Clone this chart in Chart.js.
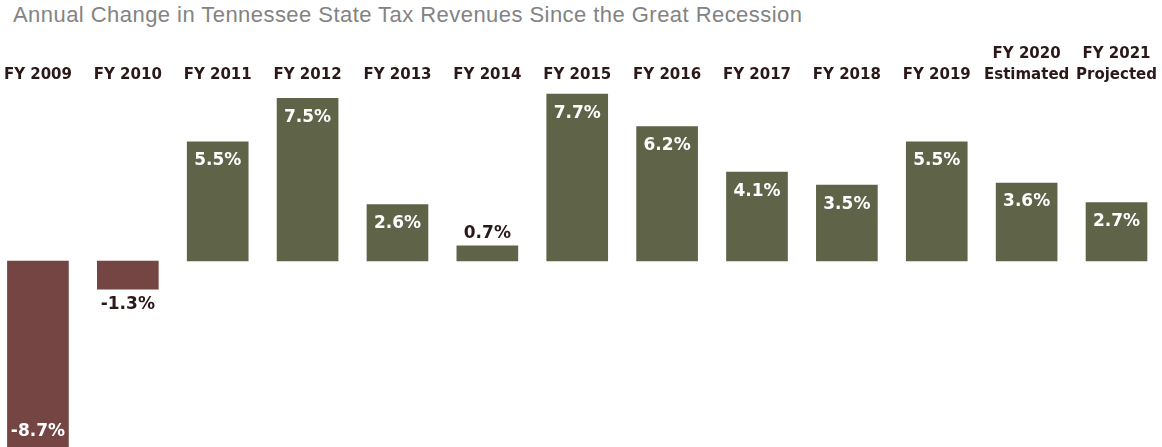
<!DOCTYPE html>
<html>
<head>
<meta charset="utf-8">
<script src="https://cdn.jsdelivr.net/npm/chart.js@4/dist/chart.umd.min.js"></script>
<style>
  html, body { margin: 0; padding: 0; background: #ffffff; overflow: hidden; }
  #wrap { position: relative; width: 1162px; height: 447px; overflow: hidden; }
  #title {
    position: absolute; left: 13px; top: 2px;
    font-family: "Liberation Sans", Arial, sans-serif;
    font-size: 22px; color: #838383; white-space: nowrap;
    letter-spacing: 0.45px;
  }
  /* the plot runs a few pixels past both edges of the window */
  canvas { position: absolute; left: -7px; top: 0; }
</style>
</head>
<body>
<div id="wrap">
  <div id="title">Annual Change in Tennessee State Tax Revenues Since the Great Recession</div>
  <canvas id="chart" width="1171" height="447"></canvas>
</div>
<script>
// Fiscal years along the top, with a note line for the last two
const fiscalYears = ['FY 2009', 'FY 2010', 'FY 2011', 'FY 2012', 'FY 2013', 'FY 2014', 'FY 2015',
                     'FY 2016', 'FY 2017', 'FY 2018', 'FY 2019', 'FY 2020', 'FY 2021'];
const yearNotes = ['', '', '', '', '', '', '', '', '', '', '', 'Estimated', 'Projected'];
// Annual percent change in state tax revenues
const revenueChange = [-8.7, -1.3, 5.5, 7.5, 2.6, 0.7, 7.7, 6.2, 4.1, 3.5, 5.5, 3.6, 2.7];

const GAIN = '#5f6448';
const LOSS = '#744542';
const DARK = '#2b1818';
const FONT = '"DejaVu Sans", Verdana, sans-serif';

const tickLabels = fiscalYears.map((fy, i) => yearNotes[i] ? [fy, yearNotes[i]] : fy);

// Percent labels: inside tall bars, just outside short ones
const valueLabels = {
  id: 'valueLabels',
  afterDatasetsDraw(chart) {
    const { ctx, chartArea } = chart;
    const meta = chart.getDatasetMeta(0);
    ctx.save();
    ctx.font = 'bold 17px ' + FONT;
    ctx.textAlign = 'center';
    ctx.textBaseline = 'middle';
    meta.data.forEach((bar, i) => {
      const v = revenueChange[i];
      const text = v.toFixed(1) + '%';
      const h = Math.abs(bar.base - bar.y);
      let y, color;
      if (h < 34) {
        color = DARK;
        y = v >= 0 ? bar.y - 12 : bar.y + 15;
      } else if (v >= 0) {
        color = '#ffffff';
        y = bar.y + 19;
      } else {
        color = '#ffffff';
        y = Math.min(bar.y, chartArea.bottom) - 15;
      }
      ctx.fillStyle = color;
      ctx.fillText(text, bar.x, y);
    });
    ctx.restore();
  }
};

new Chart(document.getElementById('chart'), {
  type: 'bar',
  data: {
    labels: tickLabels,
    datasets: [{
      data: revenueChange,
      backgroundColor: revenueChange.map(v => v < 0 ? LOSS : GAIN),
      barThickness: 61,
      borderWidth: 0
    }]
  },
  options: {
    responsive: false,
    animation: false,
    events: [],
    layout: { padding: { top: 37, left: 0, right: 0, bottom: 0 } },
    plugins: { legend: { display: false }, tooltip: { enabled: false }, title: { display: false } },
    scales: {
      x: {
        position: 'top',
        grid: { display: false, drawTicks: false },
        border: { display: false },
        ticks: {
          color: DARK,
          padding: 7,
          maxRotation: 0,
          autoSkip: false,
          font: { family: FONT, size: 15, weight: 'bold', lineHeight: 1.4 }
        }
      },
      y: {
        display: false,
        min: -8.58,
        max: 7.75
      }
    }
  },
  plugins: [valueLabels]
});
</script>
</body>
</html>
